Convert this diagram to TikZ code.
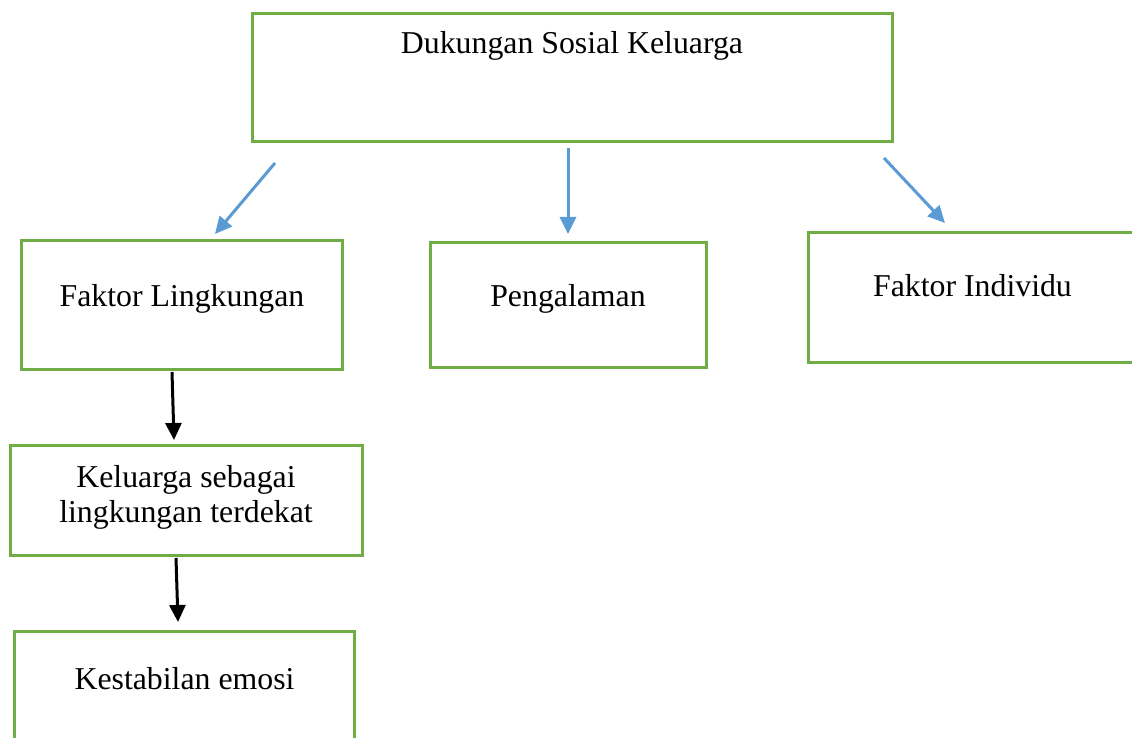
\documentclass[tikz,border=0pt]{standalone}
\usepackage{fontspec}
\setmainfont{Liberation Serif}
\usetikzlibrary{arrows.meta,calc}
\definecolor{boxgreen}{HTML}{70AD47}
\definecolor{arrblue}{HTML}{5B9BD5}
\tikzset{
  box/.style={draw=boxgreen, line width=3pt, rectangle, inner sep=0pt, outer sep=0pt},
  txt/.style={inner sep=0pt, outer sep=0pt, anchor=base, font=\fontsize{31.8}{36.5}\selectfont, align=center},
  bluearr/.style={draw=arrblue, line width=3pt, -{Triangle[length=17pt,width=16pt]}},
  blackarr/.style={draw=black, line width=3pt, -{Triangle[length=17pt,width=16pt]}}
}
\begin{document}
\begin{tikzpicture}[x=1pt,y=-1pt]
\useasboundingbox (0,0) rectangle (1132,738);
\clip (0,0) rectangle (1132,738);
% boxes
\node[box, minimum width=640pt, minimum height=128pt] (top) at (572,78) {};
\node[box, minimum width=321pt, minimum height=129pt] (fl) at (181.5,304.5) {};
\node[box, minimum width=276pt, minimum height=125pt] (pg) at (568,304.5) {};
\node[box, minimum width=329pt, minimum height=130pt] (fi) at (972.5,297) {};
\node[box, minimum width=352pt, minimum height=110pt] (kl) at (186,500) {};
\node[box, minimum width=340pt, minimum height=130pt] (ke) at (184,696) {};
% texts
\node[txt] (ttop) at (572,54) {Dukungan Sosial Keluarga};
\node[txt] (tfl) at (182,306) {Faktor Lingkungan};
\node[txt] (tpg) at (568,306) {Pengalaman};
\node[txt] (tfi) at (972.5,296) {Faktor Individu};
\node[txt] (tkl1) at (186,487) {Keluarga sebagai};
\node[txt] (tkl2) at (186,522) {lingkungan terdekat};
\node[txt] (tke) at (184.5,689) {Kestabilan emosi};
% arrows
\draw[bluearr] ($(top.south west)+(23,21)$) -- ($(fl.north west)+(194,-6)$);
\draw[bluearr] ($(top.south)+(-4,6)$) -- ($(pg.north)+(0,-8)$);
\draw[bluearr] ($(top.south east)+(-8,16)$) -- ($(fi.north west)+(137,-9)$);
\draw[blackarr] ($(fl.south)+(-9.5,3)$) -- ($(kl.north)+(-12,-5)$);
\draw[blackarr] ($(kl.south)+(-10,3)$) -- ($(ke.north)+(-6,-9)$);
\end{tikzpicture}
\end{document}
